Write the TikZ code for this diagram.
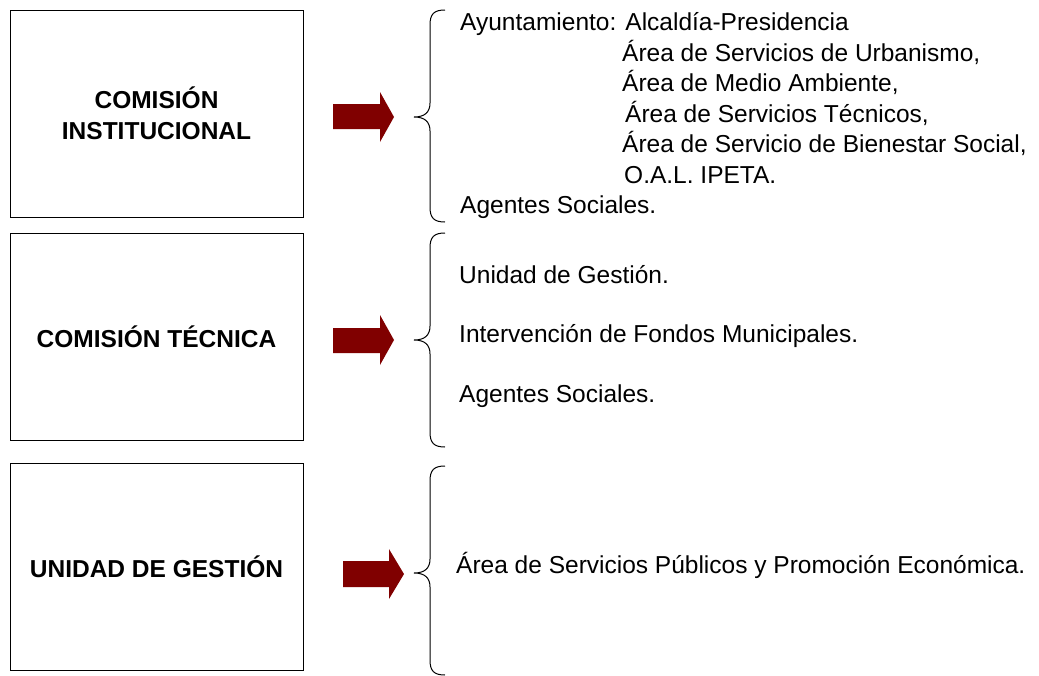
\documentclass[tikz,border=0pt]{standalone}
\usepackage{fontspec}
\setmainfont{Liberation Sans}
\definecolor{arrowred}{HTML}{800000}
\newcommand\mybrace[4]{% name, top, mid, bottom
  \draw[bracestyle] (445,#2) .. controls (434,#2) and (430,#2+4) .. (430,#2+15)
    -- (430,#3-14) .. controls (430,#3-5) and (425,#3) .. (414,#3)
    .. controls (425,#3) and (430,#3+5) .. (430,#3+14)
    -- (430,#4-15) .. controls (430,#4-4) and (434,#4) .. (445,#4);
  \coordinate (#1) at (414,#3);}
\newcommand\myarrow[7]{% name, x0, xh, xtip, shaft top, shaft bottom, head top, head bottom, ymid
  \fill[arrowred] (#2,#5) -- (#3,#5) -- (#3,#6) -- (#4,{(#6+#7)/2}) -- (#3,#7) -- (#3,#5+0) -- cycle;}
\begin{document}
\begin{tikzpicture}[x=1pt,y=-1pt,
  box/.style={draw,line width=1pt,minimum width=293pt,minimum height=207pt,
    align=center,inner sep=0pt,font=\fontsize{24.5}{31}\selectfont\bfseries},
  item/.style={anchor=base west,inner sep=0pt,font=\fontsize{24.5}{30}\selectfont},
  bracestyle/.style={line width=1pt,black},
  bigarrow/.style={fill=arrowred}]
\useasboundingbox (0,0) rectangle (1039,675);
% boxes
\node[box] (b1) at (156.5,113.5) {COMISIÓN\\INSTITUCIONAL};
\node[box] (b2) at (156.5,337) {COMISIÓN TÉCNICA};
\node[box] (b3) at (156.5,566.5) {UNIDAD DE GESTIÓN};
% arrows
\fill[bigarrow] (333,104) -- (380,104) -- (380,92) -- (394,117) -- (380,142) -- (380,129) -- (333,129) -- cycle;
\fill[bigarrow] (333,328) -- (380,328) -- (380,315) -- (394,340) -- (380,365) -- (380,353) -- (333,353) -- cycle;
\fill[bigarrow] (343,561) -- (389,561) -- (389,549) -- (404,574) -- (389,599) -- (389,587) -- (343,587) -- cycle;
% braces
\mybrace{br1}{10}{117}{222}
\mybrace{br2}{233}{340}{447}
\mybrace{br3}{466}{573}{675}
% texts
\node[item] (t11) at (460,30) {Ayuntamiento: Alcaldía-Presidencia};
\node[item] (t12) at (622,61) {Área de Servicios de Urbanismo,};
\node[item] (t13) at (622,91) {Área de Medio Ambiente,};
\node[item] (t14) at (625,122) {Área de Servicios Técnicos,};
\node[item] (t15) at (622,152) {Área de Servicio de Bienestar Social,};
\node[item] (t16) at (624,183) {O.A.L. IPETA.};
\node[item] (t17) at (460,213) {Agentes Sociales.};
\node[item] (t21) at (459,283) {Unidad de Gestión.};
\node[item] (t22) at (459,342) {Intervención de Fondos Municipales.};
\node[item] (t23) at (459,402) {Agentes Sociales.};
\node[item] (t31) at (456,573) {Área de Servicios Públicos y Promoción Económica.};
\end{tikzpicture}
\end{document}
